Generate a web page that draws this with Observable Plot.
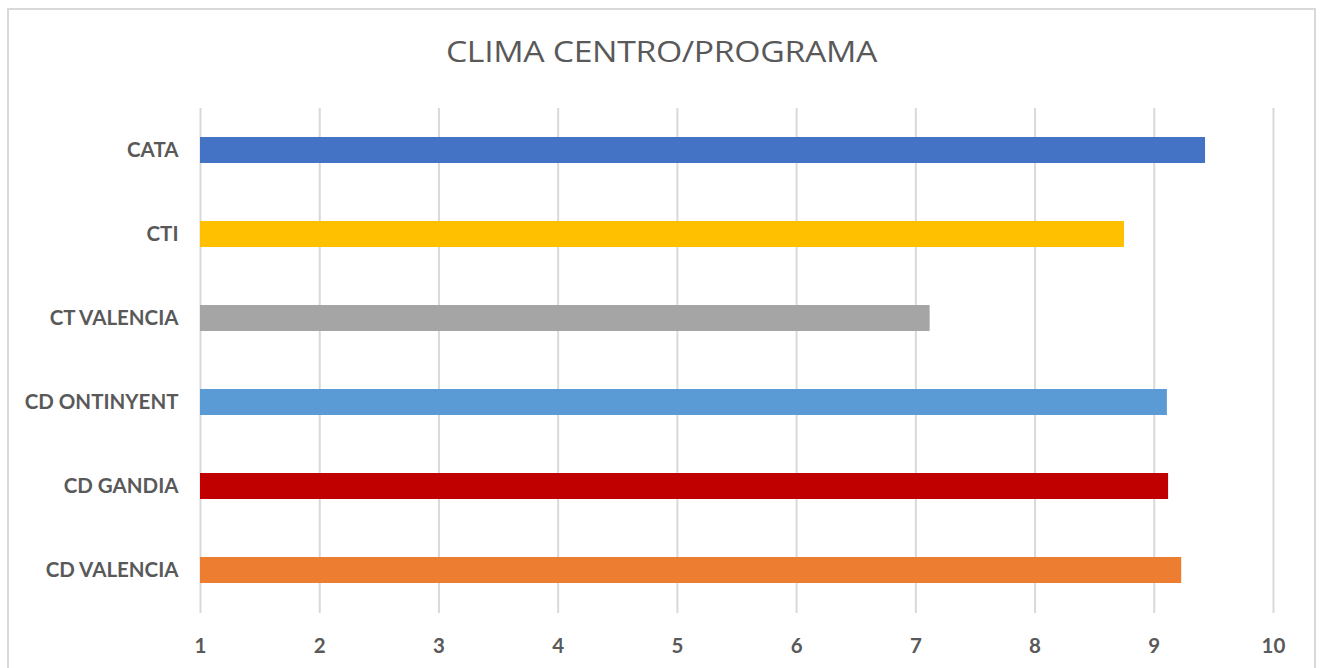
<!DOCTYPE html>
<html>
<head>
<meta charset="utf-8">
<script src="https://cdn.jsdelivr.net/npm/d3@7"></script>
<script src="https://cdn.jsdelivr.net/npm/@observablehq/plot@0.6"></script>
<style>
  html, body { margin: 0; padding: 0; background: #fff; }
  #wrap { position: relative; width: 1323px; height: 668px; overflow: hidden; background: #fff; }
  #frame { position: absolute; left: 7px; top: 8px; width: 1309px; height: 720px; border: 2px solid #d9d9d9; box-sizing: border-box; }
  #title { position: absolute; left: 0; top: 31px; width: 1323px; text-align: center; font-family: "Open Sans", Lato, sans-serif; font-size: 29px; color: #595959; line-height: 40px; letter-spacing: -0.3px; transform: scaleX(1.165); transform-origin: 661.5px 50%; }
  #chart { position: absolute; left: 0; top: 0; }
</style>
</head>
<body>
<div id="wrap">
  <div id="frame"></div>
  <div id="title">CLIMA CENTRO/PROGRAMA</div>
  <div id="chart"></div>
</div>
<script>
const categories = ["CATA", "CTI", "CT VALENCIA", "CD ONTINYENT", "CD GANDIA", "CD VALENCIA"];
const values = [9.43, 8.75, 7.12, 9.11, 9.12, 9.23];
const colors = ["#4472C4", "#FFC000", "#A5A5A5", "#5B9BD5", "#C00000", "#ED7D31"];
const xTicks = [1, 2, 3, 4, 5, 6, 7, 8, 9, 10];

const data = categories.map((c, i) => ({category: c, value: values[i], color: colors[i]}));

const chart = Plot.plot({
  width: 1323,
  height: 668,
  marginLeft: 200,
  marginRight: 50,
  marginTop: 108,
  marginBottom: 55,
  style: {fontFamily: "Lato, 'Open Sans', sans-serif", fontSize: "20px", fontWeight: "bold", color: "#595959", background: "transparent"},
  x: {domain: [1, 10], ticks: xTicks, label: null},
  y: {domain: categories, label: null, paddingInner: 0.685, paddingOuter: 0.3425},
  marks: [
    Plot.ruleX(xTicks, {stroke: "#d9d9d9", strokeWidth: 2, strokeOpacity: 1}),
    Plot.barX(data, {y: "category", x1: 1, x2: "value", fill: "color"}),
    Plot.axisX({ticks: xTicks, tickSize: 0, tickPadding: 25, fontSize: 20.5, fill: "#595959", label: null}),
    Plot.axisY({tickSize: 0, tickPadding: 22, fontSize: 20.5, fill: "#595959", label: null})
  ]
});
document.getElementById("chart").appendChild(chart);
</script>
</body>
</html>
